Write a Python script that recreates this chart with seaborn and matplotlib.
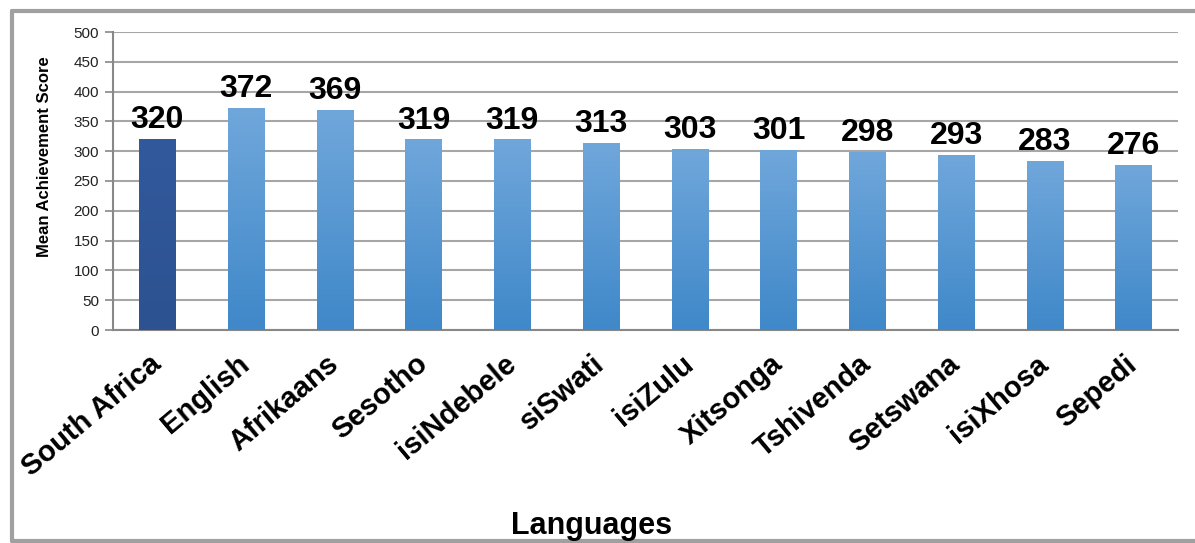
import numpy as np
import pandas as pd
import seaborn as sns
from matplotlib import pyplot as plt
from matplotlib.lines import Line2D
from matplotlib.colors import LinearSegmentedColormap

sns.set_style('white')
plt.rcParams['font.family'] = ['Liberation Sans', 'DejaVu Sans']
plt.rcParams['text.color'] = 'black'

languages = ['South Africa', 'English', 'Afrikaans', 'Sesotho', 'isiNdebele', 'siSwati',
             'isiZulu', 'Xitsonga', 'Tshivenda', 'Setswana', 'isiXhosa', 'Sepedi']
scores = [320, 372, 369, 319, 319, 313, 303, 301, 298, 293, 283, 276]
y_ticks = [0, 50, 100, 150, 200, 250, 300, 350, 400, 450, 500]

df = pd.DataFrame({'Language': languages, 'Score': scores})

fig = plt.figure(figsize=(11.95, 5.43), dpi=100)
ax = fig.add_axes([113 / 1195, 1 - 330 / 543, (1178 - 113) / 1195, (330 - 32) / 543])

sns.barplot(data=df, x='Language', y='Score', width=0.41, color='#3F88C9',
            ax=ax, zorder=3)

# gradient fill on the bars (first bar is the national total, dark blue)
grad_light = LinearSegmentedColormap.from_list('lb', ['#3F88C9', '#70A7DB'])
grad_dark = LinearSegmentedColormap.from_list('db', ['#2C5291', '#32599C'])
g = np.linspace(0, 1, 256).reshape(-1, 1)
for i, p in enumerate(ax.patches):
    x0, w, h = p.get_x(), p.get_width(), p.get_height()
    cmap = grad_dark if i == 0 else grad_light
    ax.imshow(g, cmap=cmap, origin='lower', aspect='auto',
              extent=(x0, x0 + w, 0, h), zorder=3)
    p.set_facecolor('none')
    p.set_edgecolor('none')
    ax.annotate(str(scores[i]), (x0 + w / 2, h), xytext=(0, 8),
                textcoords='offset points', ha='center', va='baseline',
                fontsize=23, fontweight='bold', color='black')

ax.set_xlim(-0.5, len(languages) - 0.5)
ax.set_ylim(0, 500)
ax.set_yticks(y_ticks)
ax.set_yticklabels([str(t) for t in y_ticks], fontsize=11, color='#222222')
ax.yaxis.grid(True, color='#A6A6A6', linewidth=1.5, zorder=0)
ax.set_axisbelow(True)

ax.set_xticks(range(len(languages)))
ax.set_xticklabels(languages, rotation=40, ha='right', va='center',
                   rotation_mode='anchor', fontsize=21, fontweight='bold', color='black')
ax.tick_params(axis='x', which='major', length=0, pad=22)
ax.set_xticks(np.arange(-0.5, len(languages), 1), minor=True)
ax.tick_params(axis='x', which='minor', length=6, width=1.2, color='#888888', direction='out')
ax.tick_params(axis='y', length=6, width=1.2, color='#888888', direction='out', pad=4, left=True)

for s in ['top', 'right']:
    ax.spines[s].set_visible(False)
for s in ['left', 'bottom']:
    ax.spines[s].set_color('#888888')
    ax.spines[s].set_linewidth(1.5)

ax.set_xlabel('')
ax.set_ylabel('')
fig.text(45 / 1195, 1 - 157 / 543, 'Mean Achievement Score', rotation=90,
         ha='center', va='center', fontsize=12, fontweight='bold', color='black')
fig.text(592 / 1195, 1 - 534 / 543, 'Languages', ha='center', va='baseline',
         fontsize=22, fontweight='bold', color='black')

# outer frame
frame = dict(color='#A0A0A0', linewidth=3, transform=fig.transFigure)
fig.add_artist(Line2D([12 / 1195, 12 / 1195], [1 - 11 / 543, 1 - 541 / 543], **frame))
fig.add_artist(Line2D([12 / 1195, 1.0], [1 - 11 / 543, 1 - 11 / 543], **frame))
fig.add_artist(Line2D([12 / 1195, 1.0], [1 - 541 / 543, 1 - 541 / 543], **frame))

plt.savefig('out.png', dpi=100)
plt.close()
